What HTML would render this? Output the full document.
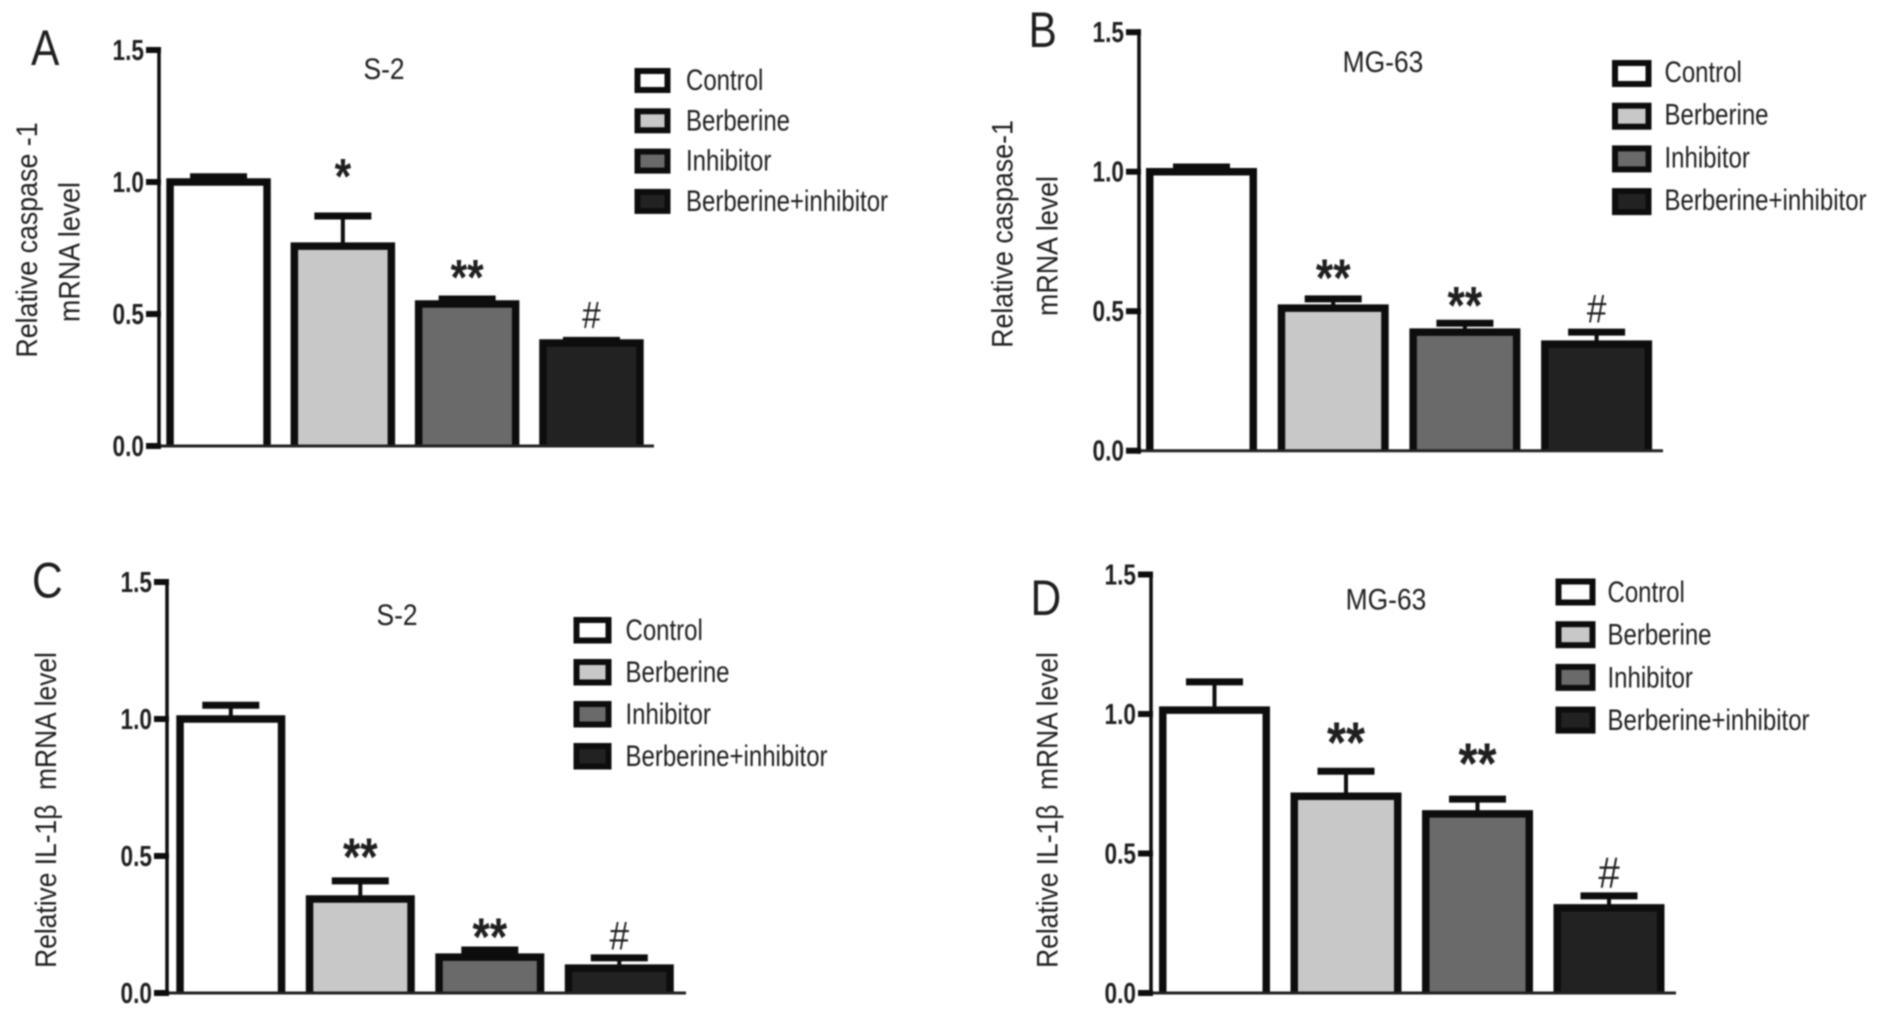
<!DOCTYPE html>
<html lang="en">
<head>
<meta charset="utf-8">
<title>Relative caspase-1 and IL-1β mRNA levels</title>
<style>
html,body{margin:0;padding:0;background:#fff;width:1890px;height:1017px;overflow:hidden}
svg{display:block;filter:blur(.7px)}
text{font-family:"Liberation Sans","DejaVu Sans",sans-serif;fill:#1f1f1f}
</style>
</head>
<body>
<svg id="figure" xmlns="http://www.w3.org/2000/svg" width="1890" height="1017" viewBox="0 0 1890 1017"></svg>
<script>
// ---- Data ----
const categories = ['Control', 'Berberine', 'Inhibitor', 'Berberine+inhibitor'];
const tickValues = [0, 0.5, 1, 1.5];
const tickLabels = ['0.0', '0.5', '1.0', '1.5'];

const valuesA = [1.0, 0.757, 0.538, 0.39];
const errorsA = [0.02, 0.114, 0.019, 0.01];
const sigLabelsA = ['', '*', '**', '#'];
const sigLevelsA = [0, 1.05, 0.667, 0.492];

const valuesB = [1.0, 0.511, 0.425, 0.382];
const errorsB = [0.017, 0.033, 0.032, 0.043];
const sigLabelsB = ['', '**', '**', '#'];
const sigLevelsB = [0, 0.648, 0.55, 0.504];

const valuesC = [1.0, 0.343, 0.131, 0.091];
const errorsC = [0.05, 0.066, 0.026, 0.037];
const sigLabelsC = ['', '**', '**', '#'];
const sigLevelsC = [0, 0.526, 0.234, 0.204];

const valuesD = [1.014, 0.705, 0.642, 0.305];
const errorsD = [0.101, 0.09, 0.053, 0.043];
const sigLabelsD = ['', '**', '**', '#'];
const sigLevelsD = [0, 0.932, 0.857, 0.427];

// ---- Layout and style (not data) ----
const fills = ['#ffffff', '#c8c8c8', '#6a6a6a', '#222222'];
const layouts = [
  {id:'a', letter:'A', letterX:31, letterY:65, title:'S-2', titleX:384, titleY:79,
   axisX:159, y0:446, unit:264, barLeft:166.3, barW:104.5, step:124.3, baseEnd:654,
   values:valuesA, errors:errorsA, sig:sigLabelsA, sigLevels:sigLevelsA, sigScale:1,
   titles:[{t:'Relative caspase -1', x:37, y:240},{t:'mRNA level', x:79.5, y:252}],
   legX:634.5, legW:36, legH:25, legY:68, legStep:40.3, legTextX:686, legTextDy:9.5},
  {id:'b', letter:'B', letterX:1028.5, letterY:47, title:'MG-63', titleX:1383, titleY:72,
   axisX:1139, y0:450.7, unit:279, barLeft:1146, barW:111, step:131.7, baseEnd:1663,
   values:valuesB, errors:errorsB, sig:sigLabelsB, sigLevels:sigLevelsB, sigScale:1.05,
   titles:[{t:'Relative caspase-1', x:1012.5, y:234},{t:'mRNA level', x:1057.5, y:246}],
   legX:1612, legW:39.5, legH:27, legY:60, legStep:42.7, legTextX:1664.5, legTextDy:8.5},
  {id:'c', letter:'C', letterX:32, letterY:597.5, title:'S-2', titleX:397, titleY:625,
   axisX:167, y0:993, unit:274, barLeft:176.3, barW:109, step:129.5, baseEnd:686,
   values:valuesC, errors:errorsC, sig:sigLabelsC, sigLevels:sigLevelsC, sigScale:1.05,
   titles:[{t:'Relative IL-1β\u00a0\u00a0mRNA level', x:56, y:810}],
   legX:573.5, legW:38, legH:26.5, legY:617, legStep:42, legTextX:625.5, legTextDy:9.5},
  {id:'d', letter:'D', letterX:1030.5, letterY:615, title:'MG-63', titleX:1386, titleY:609.5,
   axisX:1151, y0:993, unit:279, barLeft:1159, barW:111, step:131.5, baseEnd:1676,
   values:valuesD, errors:errorsD, sig:sigLabelsD, sigLevels:sigLevelsD, sigScale:1.15,
   titles:[{t:'Relative IL-1β\u00a0\u00a0mRNA level', x:1057.5, y:810}],
   legX:1555.5, legW:40, legH:27, legY:578.5, legStep:42.7, legTextX:1607.5, legTextDy:10}
];

const NS = 'http://www.w3.org/2000/svg';
const root = document.getElementById('figure');
const INK = '#0d0d0d';

function mk(tag, attrs, parent) {
  const n = document.createElementNS(NS, tag);
  for (const k in attrs) n.setAttribute(k, attrs[k]);
  parent.appendChild(n);
  return n;
}
function squeezedText(str, x, y, size, sx, anchor, weight, parent) {
  const n = mk('text', {
    transform: 'translate(' + x + ',' + y + ') scale(' + sx + ',1)',
    'font-size': size, 'text-anchor': anchor, 'font-weight': weight
  }, parent);
  n.textContent = str;
  return n;
}

layouts.forEach(function (p) {
  const yScale = function (v) { return p.y0 - v * p.unit; };
  const xScale = function (i) { return p.barLeft + i * p.step; };

  const g = mk('g', {}, root);
  
  

  const letter = squeezedText(p.letter, p.letterX, p.letterY, 50, 0.85, 'start', 'normal', g);
  
  

  const title = squeezedText(p.title, p.titleX, p.titleY, 30, 0.88, 'middle', 'normal', g);
  
  

  p.titles.forEach(function (t) {
    const yt = mk('text', {
      transform: 'translate(' + t.x + ',' + t.y + ') rotate(-90) scale(1,1.12)',
      'font-size': t.t.length > 20 ? 26.4 : 26.8, 'text-anchor': 'middle'
    }, g);
    yt.textContent = t.t;
    
    
  });

  // bars, error bars, significance marks
  p.values.forEach(function (v, i) {
    const left = xScale(i) + 3.75;
    const right = xScale(i) + p.barW - 3.75;
    const mid = (left + right) / 2;
    const top = yScale(v);
    const capY = yScale(v + p.errors[i]);

    const stem = mk('line', {x1: mid, x2: mid, y1: top, y2: capY, stroke: INK, 'stroke-width': 4}, g);
    
    

    const cap = mk('line', {x1: mid - 28.5, x2: mid + 28.5, y1: capY, y2: capY, stroke: INK, 'stroke-width': 7}, g);
    
    

    const bar = mk('path', {
      d: 'M' + left + ',' + p.y0 + 'L' + left + ',' + top + 'L' + right + ',' + top + 'L' + right + ',' + p.y0,
      fill: fills[i], stroke: INK, 'stroke-width': 7.5, 'stroke-linejoin': 'miter'
    }, g);
    
    

    if (p.sig[i]) {
      const isHash = p.sig[i] === '#';
      const size = (isHash ? 38 : 50) * p.sigScale;
      const base = yScale(p.sigLevels[i]) + (isHash ? 0.36 * size - 2 : 0.58 * size - 4.4);
      const mark = squeezedText(p.sig[i], mid, base, size, isHash ? 0.88 : 0.85, 'middle', isHash ? 'normal' : 'bold', g);
      
      
    }
  });

  // axes
  const yAxis = mk('line', {x1: p.axisX, x2: p.axisX, y1: yScale(1.5) - 3, y2: p.y0 + 3, stroke: INK, 'stroke-width': 3.5}, g);
  
  

  const xAxis = mk('line', {x1: p.axisX, x2: p.baseEnd, y1: p.y0, y2: p.y0, stroke: '#222', 'stroke-width': 3}, g);
  
  

  tickValues.forEach(function (tv, i) {
    const ty = yScale(tv);
    const tick = mk('line', {x1: p.axisX - 13, x2: p.axisX + 2, y1: ty, y2: ty, stroke: INK, 'stroke-width': 6}, g);
    
    

    const lab = squeezedText(tickLabels[i], p.axisX - 15, ty + 10, 29, 0.78, 'end', 'bold', g);
    
    
  });

  // legend
  const lg = mk('g', {}, g);
  
  
  categories.forEach(function (c, i) {
    const sy = p.legY + i * p.legStep;
    const sw = mk('rect', {
      x: p.legX + 3, y: sy + 3, width: p.legW - 6, height: p.legH - 6,
      fill: fills[i], stroke: INK, 'stroke-width': 6
    }, lg);
    
    

    const lt = squeezedText(c, p.legTextX, sy + p.legH / 2 + p.legTextDy, 30, 0.8, 'start', 'normal', lg);
    
    
  });
});
</script>
</body>
</html>
